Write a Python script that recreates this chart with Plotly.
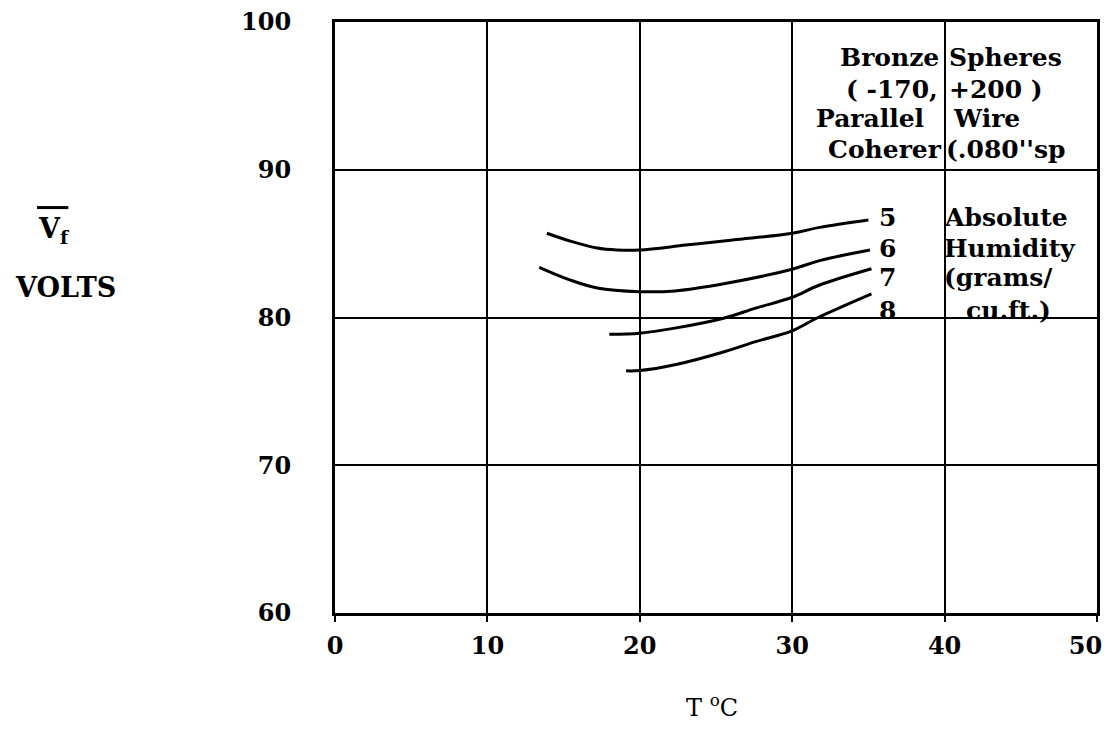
import plotly.graph_objects as go

# ---- data ----
t5 = [13.9, 15.5, 17.2, 18.5, 20.0, 23.0, 26.1, 30.0, 31.8, 35.0]
v5 = [85.7, 85.15, 84.7, 84.57, 84.57, 84.9, 85.25, 85.7, 86.1, 86.6]

t6 = [13.4, 15.4, 17.2, 20.0, 22.3, 25.6, 30.0, 31.8, 35.1]
v6 = [83.4, 82.55, 82.0, 81.75, 81.8, 82.3, 83.27, 83.85, 84.57]

t7 = [18.0, 20.0, 22.3, 25.5, 27.6, 30.0, 31.8, 35.2]
v7 = [78.87, 78.94, 79.28, 79.95, 80.63, 81.37, 82.2, 83.3]

t8 = [19.1, 20.0, 22.3, 25.6, 27.6, 30.0, 31.6, 35.2]
v8 = [76.39, 76.41, 76.8, 77.7, 78.37, 79.1, 79.95, 81.6]

series = [("5", t5, v5), ("6", t6, v6), ("7", t7, v7), ("8", t8, v8)]
label_y = [86.8, 84.7, 82.7, 80.5]

x_ticks = [0, 10, 20, 30, 40, 50]
y_ticks = [60, 70, 80, 90, 100]

FONT = "DejaVu Serif"
fig = go.Figure()
for name, t, v in series:
    fig.add_trace(go.Scatter(x=t, y=v, mode="lines", name=name,
                             line=dict(color="black", width=3, shape="spline", smoothing=1.0),
                             showlegend=False, hoverinfo="skip"))

ann = []
SZ = 25
# curve labels
for (name, t, v), ly in zip(series, label_y):
    ann.append(dict(x=36.25, y=ly, text="<b>%s</b>" % name, showarrow=False,
                    xanchor="center", yanchor="middle", font=dict(size=SZ)))
# humidity legend words
words = [("Absolute", 39.8, 86.8), ("Humidity", 39.8, 84.7),
         ("(grams/", 39.8, 82.7), ("cu.ft.)", 41.3, 80.5)]
for w, x, y in words:
    ann.append(dict(x=x, y=y, text="<b>%s</b>" % w, showarrow=False,
                    xanchor="left", yanchor="middle", font=dict(size=SZ)))
# box title lines, split around the x=40 grid line
left_parts = [("Bronze", 39.75, 97.63), ("( -170,", 39.7, 95.4),
              ("Parallel", 38.8, 93.5), ("Coherer", 39.95, 91.34)]
right_parts = [("Spheres", 40.15, 97.63), ("+200 )", 40.15, 95.4),
               ("Wire", 40.45, 93.5), ("(.080''sp", 39.95, 91.34)]
for w, x, y in left_parts:
    ann.append(dict(x=x, y=y, text="<b>%s</b>" % w, showarrow=False,
                    xanchor="right", yanchor="middle", font=dict(size=SZ)))
for w, x, y in right_parts:
    ann.append(dict(x=x, y=y, text="<b>%s</b>" % w, showarrow=False,
                    xanchor="left", yanchor="middle", font=dict(size=SZ)))

# axis titles
ann.append(dict(xref="paper", yref="paper", x=0.4948, y=-0.158, text="T <sup>o</sup>C",
                showarrow=False, xanchor="center", yanchor="middle", font=dict(size=24)))
ann.append(dict(xref="paper", yref="paper", x=-0.369, y=0.648, text="<b>V<sub>f</sub></b>",
                showarrow=False, xanchor="center", yanchor="middle", font=dict(size=27)))
ann.append(dict(xref="paper", yref="paper", x=-0.354, y=0.5516, text="<b>VOLTS</b>",
                showarrow=False, xanchor="center", yanchor="middle", font=dict(size=27)))

# last x tick label padded so it stays inside the page
x_ticktext = ["<b>%d</b>" % v for v in x_ticks]
x_ticktext[-1] = "<b>%d</b>\u00a0\u00a0\u00a0" % x_ticks[-1]

fig.update_layout(
    width=1102, height=713,
    margin=dict(l=327, r=13, t=14, b=108),
    paper_bgcolor="white", plot_bgcolor="white",
    font=dict(family=FONT, color="black"),
    annotations=ann,
    shapes=[dict(type="line", xref="paper", yref="paper",
                 x0=-0.391, x1=-0.350, y0=0.686, y1=0.686,
                 line=dict(color="black", width=3))],
    xaxis=dict(range=[0, 50], tickvals=x_ticks, ticktext=x_ticktext,
               showgrid=True, gridcolor="black", gridwidth=2, zeroline=False,
               showline=True, linecolor="black", linewidth=3, mirror=True,
               ticks="outside", ticklen=6, tickwidth=2, tickcolor="black",
               ticklabelstandoff=3, ticklabeloverflow="allow", automargin=False,
               tickfont=dict(size=24, family=FONT)),
    yaxis=dict(range=[60, 100], tickvals=y_ticks, ticktext=["<b>%d</b>" % v for v in y_ticks],
               showgrid=True, gridcolor="black", gridwidth=2, zeroline=False,
               showline=True, linecolor="black", linewidth=3, mirror=True,
               ticks="", ticklabelstandoff=36, ticklabeloverflow="allow", automargin=False,
               tickfont=dict(size=24, family=FONT)),
)

fig.write_html("out.html")
